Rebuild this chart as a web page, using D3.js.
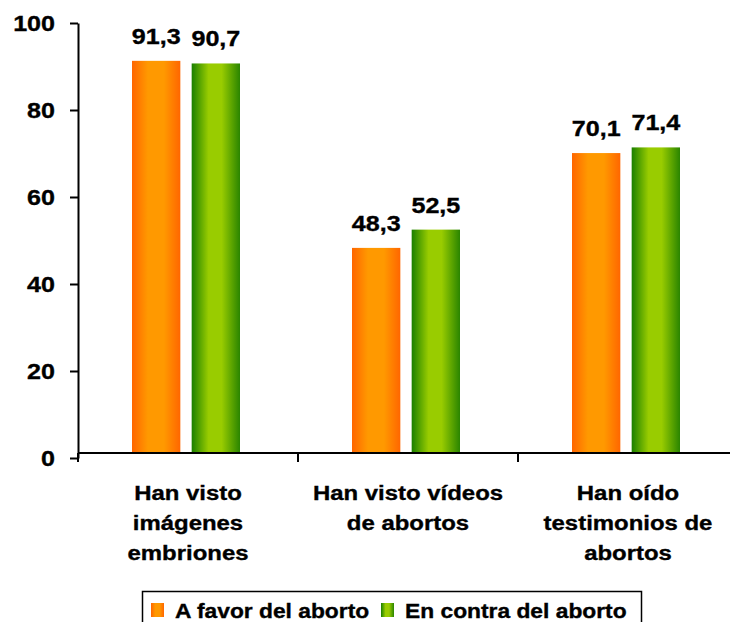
<!DOCTYPE html>
<html>
<head>
<meta charset="utf-8">
<script src="https://cdn.jsdelivr.net/npm/d3@7"></script>
<style>
  html, body { margin: 0; padding: 0; background: #fff; }
  svg { display: block; }
  text { font-family: "Liberation Sans", Arial, sans-serif; font-weight: bold; fill: #000; stroke: #000; stroke-width: 0.35px; }
</style>
</head>
<body>
<div id="chart"></div>
<script>
// ---- data ----
const categories = [
  ["Han visto", "imágenes", "embriones"],
  ["Han visto vídeos", "de abortos"],
  ["Han oído", "testimonios de", "abortos"]
];
const categoryKeys = ["c1", "c2", "c3"];
const seriesNames = ["A favor del aborto", "En contra del aborto"];
const favorValues = [91.3, 48.3, 70.1];
const contraValues = [90.7, 52.5, 71.4];
const valueLabels = [["91,3", "48,3", "70,1"], ["90,7", "52,5", "71,4"]];
const yTicks = [0, 20, 40, 60, 80, 100];

// ---- layout ----
const W = 730, H = 622;
const axisX = 78, axisY = 453;
const sx = 1.14; // horizontal text stretch

const svg = d3.select("#chart").append("svg").attr("width", W).attr("height", H);

const defs = svg.append("defs");
const gOr = defs.append("linearGradient").attr("id", "gOrange").attr("x1", "0").attr("x2", "1").attr("y1", "0").attr("y2", "0");
[[0, "#ff6600"], [0.33, "#ff9900"], [0.66, "#ff9900"], [1, "#ff6600"]].forEach(([o, c]) =>
  gOr.append("stop").attr("offset", o).attr("stop-color", c));
const gGr = defs.append("linearGradient").attr("id", "gGreen").attr("x1", "0").attr("x2", "1").attr("y1", "0").attr("y2", "0");
[[0, "#1a7f00"], [0.35, "#99cc00"], [0.62, "#99cc00"], [1, "#2a8500"]].forEach(([o, c]) =>
  gGr.append("stop").attr("offset", o).attr("stop-color", c));
const fills = ["url(#gOrange)", "url(#gGreen)"];

const y = d3.scaleLinear().domain([0, 100]).range([458, 23]);
const x0 = d3.scaleBand().domain(categoryKeys).range([axisX, axisX + 660]).paddingInner(0).paddingOuter(0);
const x1 = d3.scaleBand().domain(seriesNames).range([-56, 52]).paddingInner(0.19);

const seriesValues = [favorValues, contraValues];

// bars
seriesNames.forEach((s, si) => {
  svg.append("g").selectAll("rect").data(seriesValues[si]).join("rect")
    .attr("x", (d, i) => x0(categoryKeys[i]) + x0.bandwidth() / 2 + x1(s))
    .attr("y", d => y(d))
    .attr("width", x1.bandwidth())
    .attr("height", d => axisY - y(d))
    .attr("fill", fills[si]);
  svg.append("g").selectAll("text").data(seriesValues[si]).join("text")
    .attr("text-anchor", "middle")
    .attr("font-size", 22)
    .attr("transform", (d, i) => `translate(${x0(categoryKeys[i]) + x0.bandwidth() / 2 + x1(s) + x1.bandwidth() / 2},${y(d) - 17}) scale(${sx},1)`)
    .text((d, i) => valueLabels[si][i]);
});

// y axis
const yAxis = svg.append("g").attr("transform", `translate(${axisX},0)`)
  .call(d3.axisLeft(y).tickValues(yTicks).tickSize(8).tickSizeOuter(0).tickFormat(d => d));
yAxis.select(".domain").attr("stroke", "#000").attr("stroke-width", 2);
yAxis.selectAll(".tick line").attr("stroke", "#000").attr("stroke-width", 2);
yAxis.selectAll(".tick text")
  .attr("x", null).attr("dy", "0.36em")
  .attr("font-size", 22).attr("font-family", null)
  .attr("transform", `translate(-23,0) scale(${sx},1)`);
yAxis.attr("font-family", null).attr("font-size", null);
svg.append("line").attr("x1", axisX).attr("x2", axisX).attr("y1", 453).attr("y2", 462)
  .attr("stroke", "#000").attr("stroke-width", 2);

// x axis
svg.append("line").attr("x1", axisX).attr("x2", W).attr("y1", axisY).attr("y2", axisY)
  .attr("stroke", "#000").attr("stroke-width", 2);
svg.append("g").selectAll("line").data(categoryKeys.slice(0, -1)).join("line")
  .attr("x1", d => x0(d) + x0.bandwidth()).attr("x2", d => x0(d) + x0.bandwidth())
  .attr("y1", axisY).attr("y2", axisY + 9)
  .attr("stroke", "#000").attr("stroke-width", 2);

// category labels
categories.forEach((lines, i) => {
  const cx = x0(categoryKeys[i]) + x0.bandwidth() / 2;
  lines.forEach((ln, j) => {
    svg.append("text").attr("text-anchor", "middle").attr("font-size", 21)
      .attr("transform", `translate(${cx},${500 + j * 30}) scale(${sx},1)`)
      .text(ln);
  });
});

// legend
const lg = svg.append("g");
lg.append("rect").attr("x", 142.5).attr("y", 591.5).attr("width", 499).attr("height", 45)
  .attr("fill", "#fff").attr("stroke", "#000").attr("stroke-width", 1.5);
const legendPos = [[151, 175], [381, 405]];
seriesNames.forEach((s, si) => {
  lg.append("rect").attr("x", legendPos[si][0]).attr("y", 603).attr("width", 13).attr("height", 14)
    .attr("fill", fills[si]);
  lg.append("text").attr("font-size", 20)
    .attr("transform", `translate(${legendPos[si][1]},618) scale(${sx},1)`)
    .text(s);
});
</script>
</body>
</html>
